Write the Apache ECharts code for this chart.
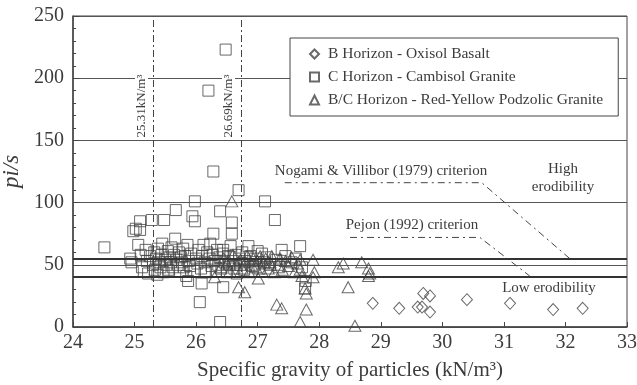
<!DOCTYPE html>
<html>
<head>
<meta charset="utf-8">
<script src="https://cdn.jsdelivr.net/npm/echarts@6/dist/echarts.min.js"></script>
<style>
  html, body { margin: 0; background: #fff; }
  #chart { width: 637px; height: 385px; }
</style>
</head>
<body>
<div id="chart"></div>
<script>
// B Horizon - Oxisol Basalt
const basalt = [
  [28.87, 19], [29.30, 15], [29.60, 16], [29.69, 27], [29.80, 25], [29.67, 16],
  [29.80, 12], [30.40, 22], [31.10, 19], [31.80, 14], [32.28, 15]
];

// C Horizon - Cambisol Granite
const cambisol = [
  [24.51, 64], [24.93, 55], [24.95, 52], [24.98, 77], [25.02, 79], [25.06, 66], [25.09, 85],
  [25.09, 78], [25.10, 58], [25.12, 48], [25.15, 45], [25.18, 62], [25.20, 53], [25.22, 43],
  [25.25, 57], [25.28, 86], [25.30, 50], [25.32, 60], [25.33, 46], [25.35, 55], [25.37, 42],
  [25.38, 63], [25.40, 52], [25.42, 48], [25.44, 58], [25.45, 67], [25.47, 44], [25.48, 86],
  [25.50, 54], [25.52, 50], [25.54, 61], [25.55, 46], [25.57, 56], [25.59, 52], [25.60, 64],
  [25.62, 48], [25.64, 58], [25.66, 71], [25.67, 94], [25.68, 54], [25.70, 50], [25.72, 60],
  [25.74, 45], [25.75, 56], [25.77, 52], [25.79, 63], [25.80, 48], [25.82, 57], [25.84, 41],
  [25.86, 66], [25.87, 37], [25.88, 53], [25.90, 49], [25.92, 59], [25.94, 89], [25.96, 45],
  [25.98, 101], [25.98, 85], [26.00, 55], [26.02, 51], [26.04, 62], [26.06, 20], [26.08, 47],
  [26.09, 35], [26.10, 57], [26.12, 66], [26.14, 52], [26.16, 44], [26.18, 60], [26.20, 190],
  [26.22, 55], [26.23, 67], [26.25, 49], [26.27, 58], [26.28, 125], [26.28, 75], [26.30, 53],
  [26.32, 45], [26.34, 62], [26.36, 50], [26.38, 56], [26.39, 93], [26.39, 4], [26.41, 47],
  [26.43, 59], [26.44, 62], [26.44, 32], [26.46, 52], [26.48, 223], [26.50, 44], [26.52, 57],
  [26.54, 50], [26.56, 65], [26.58, 84], [26.58, 75], [26.60, 53], [26.62, 47], [26.64, 58],
  [26.66, 43], [26.69, 110], [26.70, 55], [26.72, 50], [26.75, 60], [26.78, 46], [26.80, 53],
  [26.85, 65], [26.88, 57], [26.92, 49], [26.96, 55], [27.00, 61], [27.03, 47], [27.07, 59],
  [27.10, 52], [27.12, 101], [27.15, 56], [27.20, 50], [27.28, 86], [27.30, 54], [27.35, 48],
  [27.39, 62], [27.45, 57], [27.55, 52], [27.62, 55], [27.69, 65], [27.72, 48], [27.77, 31],
  [27.78, 37]
];

// B/C Horizon - Red-Yellow Podzolic Granite
const podzolic = [
  [26.30, 40], [26.40, 48], [26.45, 55], [26.50, 51], [26.55, 45], [26.58, 101], [26.60, 58],
  [26.65, 50], [26.69, 32], [26.72, 54], [26.75, 47], [26.79, 28], [26.80, 52], [26.83, 57],
  [26.86, 44], [26.90, 50], [26.93, 55], [26.97, 48], [27.00, 53], [27.01, 39], [27.04, 57],
  [27.07, 45], [27.10, 51], [27.13, 55], [27.17, 47], [27.20, 52], [27.23, 57], [27.27, 44],
  [27.31, 18], [27.33, 50], [27.36, 55], [27.39, 15], [27.40, 46], [27.45, 53], [27.50, 49],
  [27.55, 56], [27.60, 44], [27.65, 51], [27.69, 54], [27.69, 46], [27.69, 4], [27.72, 41],
  [27.77, 31], [27.79, 27], [27.79, 14], [27.90, 54], [27.90, 40], [27.92, 44], [28.31, 48],
  [28.39, 51], [28.47, 32], [28.58, 1], [28.69, 52], [28.80, 47], [28.80, 41], [28.82, 43]
];

// reference lines
const gravityLines = [25.31, 26.74];
const erodibilityLines = [55, 40];
const nogamiLine = [[27.44, 116], [30.64, 116], [32.07, 55]];
const pejonLine = [[28.50, 72], [30.61, 72], [31.42, 41]];

const FONT = '"Liberation Serif", "DejaVu Serif", serif';
const INK = '#3c3c3c';

const chart = echarts.init(document.getElementById('chart'));

const markerStyle = { color: 'rgba(0,0,0,0)', borderColor: '#444', borderWidth: 1 };
const dashDot = [7, 3, 2, 3];

const option = {
  animation: false,
  backgroundColor: '#fff',
  textStyle: { fontFamily: FONT },
  grid: {
    left: 73, right: 10, top: 16, bottom: 58,
    outerBoundsMode: 'none', containLabel: false,
    show: true, borderColor: '#444', borderWidth: 1
  },
  legend: {
    data: ['B Horizon - Oxisol Basalt', 'C Horizon - Cambisol Granite', 'B/C Horizon - Red-Yellow Podzolic Granite'],
    orient: 'vertical',
    left: 290,
    top: 38,
    padding: [8, 15, 8, 19],
    itemGap: 7,
    itemWidth: 9,
    itemHeight: 9,
    backgroundColor: '#fff',
    borderColor: '#444',
    borderWidth: 1,
    textStyle: { fontFamily: FONT, fontSize: 15.5, color: INK, padding: [0, 0, 0, 4] }
  },
  xAxis: {
    type: 'value',
    min: 24,
    max: 33,
    interval: 1,
    name: 'Specific gravity of particles (kN/m³)',
    nameLocation: 'middle',
    nameGap: 33,
    nameTextStyle: { fontFamily: FONT, fontSize: 21, color: INK },
    axisLine: { lineStyle: { color: '#444', width: 1.5 } },
    axisTick: { inside: true, length: 5, lineStyle: { color: '#444' } },
    axisLabel: { fontFamily: FONT, fontSize: 20, color: INK, margin: 6 },
    splitLine: { show: false }
  },
  yAxis: {
    type: 'value',
    min: 0,
    max: 250,
    interval: 50,
    name: 'pi/s',
    nameLocation: 'middle',
    nameGap: 45,
    nameTextStyle: { fontFamily: FONT, fontSize: 23, fontStyle: 'italic', color: INK },
    axisLine: { lineStyle: { color: '#444', width: 1.5 } },
    axisTick: { inside: true, length: 6, lineStyle: { color: '#444' } },
    minorTick: { show: true, splitNumber: 5, length: 3, lineStyle: { color: '#444' } },
    axisLabel: { fontFamily: FONT, fontSize: 20, color: INK, margin: 9 },
    splitLine: { show: true, lineStyle: { color: '#555', width: 1 } }
  },
  series: [
    {
      name: 'B Horizon - Oxisol Basalt',
      type: 'scatter',
      symbol: 'diamond',
      symbolSize: [11, 12],
      itemStyle: markerStyle,
      data: basalt
    },
    {
      name: 'C Horizon - Cambisol Granite',
      type: 'scatter',
      symbol: 'rect',
      symbolSize: 11,
      itemStyle: markerStyle,
      data: cambisol
    },
    {
      name: 'B/C Horizon - Red-Yellow Podzolic Granite',
      type: 'scatter',
      symbol: 'triangle',
      symbolSize: [12, 11],
      itemStyle: markerStyle,
      data: podzolic
    },
    {
      name: 'boundaries',
      type: 'scatter',
      data: [],
      silent: true,
      markLine: {
        silent: true,
        symbol: 'none',
        label: { show: false },
        data: erodibilityLines.map(v => ({ yAxis: v, lineStyle: { color: '#333', width: 2, type: 'solid' } }))
          .concat(gravityLines.map(v => ({ xAxis: v, lineStyle: { color: '#444', width: 1, type: dashDot } })))
      }
    },
    {
      name: 'Nogami',
      type: 'line',
      silent: true,
      symbol: 'none',
      lineStyle: { color: '#444', width: 1, type: [7, 4, 2, 4] },
      data: nogamiLine
    },
    {
      name: 'Pejon',
      type: 'line',
      silent: true,
      symbol: 'none',
      lineStyle: { color: '#444', width: 1, type: [7, 4, 2, 4] },
      data: pejonLine
    }
  ],
  graphic: [
    { type: 'text', z: 100, x: 141.5, y: 106, rotation: Math.PI / 2,
      style: { text: '25.31kN/m³', font: '13px ' + FONT, fill: INK, align: 'center', verticalAlign: 'middle', backgroundColor: '#fff', padding: [0, 2] } },
    { type: 'text', z: 100, x: 228.5, y: 106, rotation: Math.PI / 2,
      style: { text: '26.69kN/m³', font: '13px ' + FONT, fill: INK, align: 'center', verticalAlign: 'middle', backgroundColor: '#fff', padding: [0, 2] } },
    { type: 'text', z: 100, x: 381, y: 171,
      style: { text: 'Nogami & Villibor (1979) criterion', font: '15px ' + FONT, fill: INK, align: 'center', verticalAlign: 'middle' } },
    { type: 'text', z: 100, x: 412, y: 225,
      style: { text: 'Pejon (1992) criterion', font: '15px ' + FONT, fill: INK, align: 'center', verticalAlign: 'middle' } },
    { type: 'text', z: 100, x: 563, y: 169,
      style: { text: 'High', font: '15px ' + FONT, fill: INK, align: 'center', verticalAlign: 'middle' } },
    { type: 'text', z: 100, x: 563, y: 187,
      style: { text: 'erodibility', font: '15px ' + FONT, fill: INK, align: 'center', verticalAlign: 'middle' } },
    { type: 'text', z: 100, x: 549, y: 288,
      style: { text: 'Low erodibility', font: '15px ' + FONT, fill: INK, align: 'center', verticalAlign: 'middle' } }
  ]
};

chart.setOption(option);
</script>
</body>
</html>
